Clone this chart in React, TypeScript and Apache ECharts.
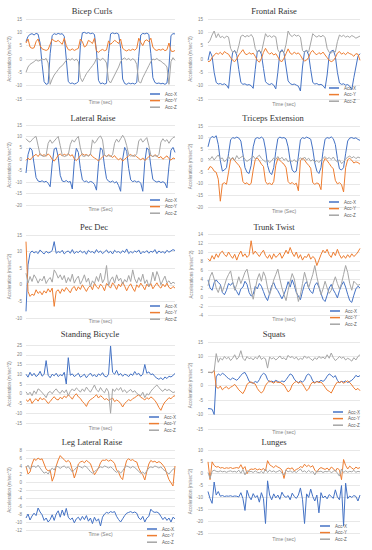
import React, { useEffect, useRef } from "react";
import * as echarts from "echarts";

const categories = Array.from({ length: 75 }, (_, i) => String(i));
const seriesNames = ["Acc-X", "Acc-Y", "Acc-Z"];
const colors = ["#4472C4", "#ED7D31", "#A5A5A5"];

const titles = ["Bicep Curls", "Frontal Raise", "Lateral Raise", "Triceps Extension", "Pec Dec", "Trunk Twist", "Standing Bicycle", "Squats", "Leg Lateral Raise", "Lunges"];
const yMin = [-15, -15, -20, -20, -10, -4, -15, -15, -12, -25];
const yMax = [15, 15, 15, 15, 15, 14, 25, 15, 8, 10];
const yStep = [5, 5, 5, 5, 5, 2, 5, 5, 2, 5];
const xNames = ["Time (sec)", "Time (sec)", "Time (Sec)", "Time (Sec)", "Time (sec)", "Time (sec)", "Time (sec)", "Time (sec)", "Time (Sec)", "Time (sec)"];
const yNames = ["Acceleration (m/sec^2)", "Acceleration (m/sec^2)", "Acceleration (m/sec^2)", "Acceleration (m/sec^2)", "Acceleration (m/sec^2)", "Accelerations (m/sec^2)", "Acceleration (m/sec^2)", "Acceleration (m/sec^2)", "Acceleration (m/sec^2)", "Acceleration (m/sec^2)"];

// Bicep Curls
const bicepX = [6.5,8.5,9.2,9.5,9.0,9.6,9.3,6,-2,-8.5, -9.5,-9.2,2,8.8,9.5,9.2,9.6,9.3,9.5,8.5, 0,-8.5,-9.2,-9.0,-9.4,-9.1,-8.5,5,9.8,10, 9.6,9.9,9.5,9.7,9.2,3,-8,-9.3,-9.0,-9.4, -9.1,2,9.4,9.8,9.5,9.7,9.3,4,-7.5,-9.2, -9.5,-9.0,-9.3,-9.1,-9.4,-8.8,1,9.0,9.6,9.4, 9.7,9.2,2,-7,-8.8,-9.2,-9.0,-9.3,-9.1,-9.5, -9.0,-3,8.8,9.5,9.4];
const bicepY = [6,7.5,4.5,4,4.2,6.5,7.5,5,3.8,3.5, 3.2,3.6,5.5,7.5,6.8,6.5,7,6.2,5.5,7.8, 5,3.5,3.3,3.8,3.2,3.6,4,7.5,6.5,4.5, 5,7,6.5,5.8,7.8,3,2.5,3.2,3.6,3.1, 3.4,6.8,5.5,6.2,7,6.5,5.8,7.5,4,3.4, 3.0,3.5,3.2,3.7,3.3,4,7.8,6.2,5,6.8, 7.2,6.5,7.8,4.5,3.5,3.2,3.6,3.3,3.8,3.1, 3.5,6,3.0,2.8,3.2];
const bicepZ = [-5,-3,-2,-1.5,-1,-0.3,-0.8,-0.5,0,-0.3, 0.2,-1.5,-9.5,-7.5,-6,-5,-4,-3,-2.5,-1.5, -0.5,0,-0.4,0.2,-0.6,0,-1,-7,-8.5,-7, -5.5,-4.5,-3.5,-2.5,-1.5,0.2,0,-0.5,0.3,-0.3, -1.5,-8,-9,-7.5,-6,-4.5,-3,-1,0,0.4, -0.3,0.2,-0.5,0.1,-0.4,-2,-8.5,-9,-7,-5.5, -4,-2.5,-1,0,-0.3,0.2,-0.5,-0.8,-1.5,-2, -3,-9.5,-1,0.5,-0.5];

// Frontal Raise
const frontalX = [-0.5,2.8,1,-5,-8.8,-9.4,-9.2,-9.6,-9.3,-9.8, -11,-3,2.5,3.2,1.5,-4,-8.8,-9.5,-9.3,-9.8, -9.6,-10,-11,-4,2.8,3.3,1.8,-3.5,-8.5,-9.3, -9.6,-9.2,-9.8,-11.2,-5,2.5,3.5,2.2,-3,-8.2, -9.2,-9.6,-9.4,-9.8,-10.2,-12,-3,2.8,3.2,1.5, -4,-8.8,-9.4,-9.2,-9.7,-9.5,-10,-11,-6,1.5, 3,3.3,1,-5,-9,-9.5,-9.3,-9.8,-9.6,-10.2, -11.5,-7,-3,1,2];
const frontalY = [-1,-0.8,0.5,1.5,2.2,1.8,2.5,1.6,2.8,2.2, 1.8,0.5,-0.5,-1,0,1.5,2.5,3.5,2,1.6, 2.4,1.8,2.2,1,-0.5,-1.2,0.2,2.5,4,2.6, 1.8,2.4,1.5,2,0.8,-0.6,-1,0.3,2,3.8, 2.2,1.7,2.6,1.9,2.3,1.4,0,-0.8,-0.4,0.6, 2.5,3.2,2.1,1.6,2.4,1.8,2.6,1.5,0.5,-0.5, -1,-0.6,0.5,2.2,2.8,1.8,2.3,1.6,2.5,2, 1.7,1,2,1.8,-0.5];
const frontalZ = [6,7,9,10.5,8,9.5,8,8.5,7.8,8.6, 8.2,4,2.5,3,2.2,5,8.5,9,8.2,8.8, 8.4,9.2,8,4,2.5,3.2,2.4,6,9.5,8.3, 8.8,8.1,8.7,8.3,3.5,2.2,3,2.5,5.5,10.5, 9,8.4,9.2,8.6,8.9,8.2,3.2,2.4,3.3,2.6, 6,9.5,8.7,8.2,8.8,8.3,8.9,8,4,2.5, 2.2,3,2.6,6.5,9,8.4,8.9,8.2,8.6,8.1, 8.8,8.4,7.8,8.2,8.6];

// Lateral Raise
const lateralX = [-6,2,5,4,-2,-8,-9.5,-9.8,-9.4,-10, -9.6,-10.5,-12,-2,4.5,5,1,-7,-9.5,-9.8, -9.3,-10,-9.7,-13,-1,4.8,3,-4,-9,-9.8, -9.5,-10.2,-9.7,-10,-11,-13.5,-2,5,4,-3, -8.5,-9.6,-10,-9.5,-10.3,-9.8,-11.5,-14,0,5.2, 3.5,-4,-9,-9.8,-9.4,-10,-9.6,-10.5,-14,-1, 5,4,-3,-8.8,-9.5,-10,-9.6,-10.2,-9.8,-10.4, -12.5,-3,4,5.2,3];
const lateralY = [-0.5,0.5,-0.3,0.8,1.5,2.2,1.2,2.5,1.6,2, 1.3,2.4,1.5,0,-0.8,0.3,1.8,2.3,1.5,2.2, 1.7,2.6,1.4,2,0.2,-0.6,0.4,1.6,2.4,1.8, 2.1,1.5,2.3,1.2,0.6,0,-0.7,0.2,1,1.8, 1.2,2,1.5,0.8,1.6,0.4,-0.2,0.5,-0.8,0, 0.8,1.5,2.2,1.3,1.9,1.1,0.4,-0.3,0.6,-0.5, 0.2,1.2,1.8,1.1,2,1.4,0.6,1.2,0,0.8, 1.5,0.3,-0.4,0.6,0.2];
const lateralZ = [9,8,7.5,8.5,9.5,10,6,2,1.5,1.2, 1.8,7,8.5,7,8,9,10,6,1.8,1.2, 1.5,2,6.5,8.5,7.5,9,10,5,1.5,1.2, 1.8,1.4,2,8.5,7,8,9.5,10.2,8.5,2, 1.3,1.6,1.2,2,7,8.8,7.5,9,10.5,9, 6,2,1.4,1.7,1.2,2.5,8,9,7.5,8.5, 9.5,6,1.8,1.2,1.6,1.3,2,7.5,9,7.8, 8.6,7,8.5,9.5,9.8];

// Triceps Extension
const tricepsX = [6,9.5,10.5,10,10.8,7,0,-4.5,-4,-3, 3,9,10,9.7,10.2,9.8,8.5,3,-3,-5, -5.5,-2,6,9.5,10,9.6,10.2,9.5,5,-2, -5,-6,-3,4,9.5,10.2,9.8,10,9.4,6, 0,-4,-5,-4.5,2,9,10,9.6,10.2,9.8, 9.3,5,-1,-4.5,-5.5,-3,4,9.3,10,9.7, 10.3,9.5,7,1,-3.5,-4,-3,3,8.5,9.8, 10,9.6,9.9,9.2,8.8];
const tricepsY = [-4,-2.5,-3,-4.5,-5,-8,-17.5,-10,-9.5,-10.2, -5,0.5,1,0,-1,-2,-3.5,-9,-10,-9.5, -10.5,-9.8,-4,0.5,1.2,0,-1.5,-2.5,-9,-10.2, -9.6,-10.5,-9,-2,1,0.2,-0.8,-1.5,-3,-9, -10,-9.4,-10.3,-9.7,-13,0,1.2,0.3,-1,-2, -3.2,-9.5,-10.2,-9.6,-10,-12.5,-1,1,0,-1.2, -2.5,-3.5,-8.5,-10,-9.5,-10.3,-13.5,-3,0.5,1, 0.2,-1,-0.5,-0.8,-1.5];
const tricepsZ = [1,0.5,1.8,0.3,1.5,2.5,0.8,1.2,-0.5,0.5, 1.8,0.4,1.5,0.2,2.2,0.8,1.5,2,0.5,-0.3, 0.4,1,2,0.8,1.6,2.4,1,0.2,-0.5,0.3, -0.8,0,1.2,0.5,1.8,0.6,1.5,0.2,1,-0.5, 0.2,-0.4,0.5,-0.6,0.4,1.2,0.5,1.6,0.3,1.1, -0.2,0.5,-0.6,0.1,-0.8,0.3,1,1.8,0.8,1.4, 0.5,1.6,0.2,-0.5,0.3,-1.2,-0.5,0.8,1.5,2, 1.2,1.8,0.9,1.6,1.2];

// Pec Dec
const pecX = [-8,6,9.5,10.2,9.6,10,9.4,10.5,9.8,9.3, 10.1,9.6,9.8,10.3,13,9.5,10,9.7,10.4,9.3, 9.9,10.2,9.5,10.6,9.4,10,9.7,10.3,9.6,10.1, 9.2,10.4,9.8,10,9.5,10.6,9.7,10.2,9.4,9.9, 10.5,9.6,10.1,9.3,10.4,9.8,10,9.5,10.3,9.7, 10.8,9.4,10,9.6,10.2,9.8,10.5,9.3,10,9.7, 10.3,9.5,10.1,9.8,10.6,9.4,10.2,9.7,10,9.5, 10.4,9.8,10.2,10.6,10.3];
const pecY = [13,-2,-3.5,-2.8,-3.2,-1.5,-2.6,-2,-3,-1.8, -2.5,-1.2,-2.2,-1,-6.5,-2,-1.5,-2.6,-1.2,-2, -0.8,-1.6,-2.4,-1,-0.5,-1.8,-0.6,-1.4,0,-1, -2,-0.8,-0.2,-1.5,0.5,-0.6,-1.2,0.2,-0.5,-1.8, 0.4,-0.3,-1,0.6,-0.2,-1.4,0.2,-0.6,0.8,-0.4, -1.8,-0.5,0.3,-1,-2,0,-0.8,0.5,-0.4,-1.5, 0.2,-0.6,0.4,-1.2,-0.3,0.6,-0.5,-1,0.2,-0.6, 0.5,-0.8,-1.2,-0.5,-1];
const pecZ = [3.5,0.5,2.5,1,3,2,0.5,1.8,1.2,2.6, 0.4,1.5,2.2,0.8,4.5,3.5,2,3,1.5,2.8, 0.6,2.2,1,3.2,0.5,1.8,2.6,0.2,1.4,3, 0.8,2,-0.5,1.2,0.4,2.5,1,3.5,0.6,1.8, 5.8,-0.3,1.5,2.4,0.5,3,1.2,2,0.2,1.6, 0.8,2.8,1,4.5,1.8,0.5,2.2,1,3.2,0.4, 1.5,-0.5,0.8,3.8,1.2,4,2.4,0,1.4,2.6, 0.6,1.2,0.2,0.8,0.4];

// Trunk Twist
const trunkX = [3.8,2,1.5,3.2,3.8,3.2,2.8,1,0.5,1.5, 3,2.6,3.2,2,1.2,0.4,1.8,2.2,3.5,2.8, 1,0.2,0.6,2.4,1.8,3,2.4,1.2,0,-0.8, 0.8,2.5,3.2,2,1.4,0.5,-0.4,0.6,1.8,3.4, 2.2,3.8,2.6,1,0.2,-0.6,1.2,2.8,3.4,2, 1.2,0.8,2.6,3.2,2.2,0.8,-0.5,-1,0.4,2, 2.8,1.6,0.8,-0.2,1.4,2.6,3.4,2.2,0.6,-0.8, -1.2,0.4,1.8,2.4,2];
const trunkY = [8.5,8,9.2,8.4,9.6,8.8,9.8,10.2,9.4,9, 10,9.2,8.6,9.5,8.2,9.4,10.2,9,9.6,8.8, 9.3,12.5,9.5,10.2,9.6,9,9.8,10.4,9.2,8.6, 9.4,8.4,9.6,8.8,9.2,9.8,8.6,9.4,10.4,9.6, 11,9.8,9,10,8.6,9.4,8.2,9,8.8,9.6, 8.4,9,8.6,7,8.2,9.4,10.4,9.8,10.6,9.4, 8.8,10,9.2,10.6,9.4,8.6,9.2,8.6,9.4,8.8, 9.6,9,9.4,10,10.8];
const trunkZ = [2.5,4.5,5.5,4,2,1,2.5,1.2,2.5,4, 5,5.8,3.5,1.5,2.8,4.5,3,4.2,5.5,6.2, 4,1.5,-0.5,1.8,4,5.2,3.5,5.6,4.5,2, 0.5,2,3.8,5,6.2,4,2,0.5,-0.8,1.5, 3.5,5.2,4,1.5,-1,0.5,3,5.5,3.8,2, 3.5,5,7,4.5,2.5,0.5,1.8,3.5,2,0.8, 1.5,3.2,4.5,3,1.8,3,5,7,5.5,3, 1.5,3.5,3,2.6,2.8];

// Standing Bicycle
const bicycleX = [10,8.5,11,9.2,10.5,8.8,9.6,11.5,9,10, 17,9.5,8.2,10,9.2,10.5,8.8,9.8,9.2,11, 5,18.5,9.5,10.2,8.8,9.6,10.5,8.5,9.2,10, 8.2,9.5,10.6,9,9.8,8.6,10.2,9.4,10.8,9, 8.6,10,24.5,11,10,12,9.5,10.4,9,10, 9.6,8.8,10.2,9.4,11.4,9.8,10.5,9,10,15, 10.5,11.2,9.8,10.2,8.8,8,7.4,8.2,7.2,8.6, 7.8,9,8.6,9.4,10.4];
const bicycleY = [-3,-4,-2.5,-5,-3.5,-2.5,-3.8,-2,-3,-2.4, -3.6,-5,-4,-2.6,-1.5,-2.8,-3.2,-1.8,-2.6,-1.2, -2,-0.5,-1.5,-2.8,-1,0,-1.6,-2.4,-4,-5, -6.5,-4.2,-3,-2.4,-1.5,-0.5,-2.2,-1,-1.8,-3, -2.5,-3.4,-2.8,-2.2,-4,-3.2,-3.8,-5,-6.8,-5, -4,-3,-3.6,-2.5,-2,-1.2,-0.5,-1.8,-2.4,-3.2, -2,-2.8,-1.6,-2.4,-3.4,-5,-7,-8.5,-6,-4.2, -3.2,-2,-2.6,-1.4,-1];
const bicycleZ = [1,-0.5,0.8,-1,1.5,0,2.5,1.8,0.5,-0.5, -2,0.5,1.2,0,1.5,2.5,1,0.2,1.8,0.5, 2,-1,1.2,2.5,1.4,3,2,0.8,2.5,1.2, 3.4,2,0.8,2.6,4.5,2,1,3.2,1.5,0.5, 2.8,1,-10,2.5,1.2,2.8,1.8,3.2,1,2, 0.5,1.4,2.2,0.8,1.6,0.2,-0.5,-1,0.8,-2, 0,-0.6,1.2,2.5,3.5,4.5,3.2,2,1.2,2.5, 1.6,2.2,1.4,0.6,1];

// Squats
const squatX = [-8,-8,-8.2,-10,3,4,3.5,4.2,3.8,3, 2.4,2,2.6,2.2,1.8,2.5,3.5,4.2,4.5,3.2, 1.5,1,0.8,1.4,1,2,3.5,4.2,3.8,2, 1.2,1.5,1.2,1.8,1.4,1,1.6,1.2,2,3, 4,3.6,2.2,1.4,1,1.6,1.2,1.8,3.5,4, 3.2,1.6,1,1.4,1.2,1.8,1.4,2,3.2,4, 3.5,2.8,3.4,1.8,1,1.4,1.2,1.6,1,1.4, 1.8,2.5,3.5,3,3.4];
const squatY = [4.5,4.5,4.4,5.2,-0.5,-1,-0.2,-1.5,-0.8,-0.4, -1.2,-0.6,-0.2,0.4,-0.5,-1.5,-2.2,-2.8,-1.5,0.4, 1,1.2,0.8,0.5,-1,-2,-2.6,-1.8,0,1, 1.6,1.2,0.8,1.4,1,1.2,0.6,0.2,-1,-2.2, -1.6,0.2,1,1.4,0.8,1.2,0.6,-0.6,-1.8,-1.2, 0.4,1.2,0.8,1.4,1,1.2,0.4,-0.6,-1.6,-2, -2.6,-1.2,0.2,1.2,1,1.4,0.8,1.2,1.6,1, 0.2,-0.8,-1.5,-1,-1.8];
const squatZ = [4.5,4.5,4.4,5,11,8,9.5,8.8,10,9.2, 9.8,8.6,9.4,10.6,9,9.8,12,9.4,8.6,10, 9.2,9.6,8.8,9.8,9.2,10.4,9,9.6,9.2,6, 9.8,9.2,9.6,8.8,9.4,10.2,9.2,9.6,8.8,10.4, 9.6,10,9.2,9.8,8.8,9.4,9,10.2,9.4,9.8, 9.2,8.6,9.6,9,10,9.4,9.8,9.2,10.6,9.4, 11.2,9.6,8.6,9.2,10,9.4,9.8,8.8,9.4,9, 8.4,9.6,8.8,10,10.6];

// Leg Lateral Raise
const legX = [-9,-8,-9.5,-8.5,-7.8,-8.4,-6.5,-7.5,-8.2,-9.6, -9,-10,-9.4,-8.2,-9.6,-8,-7.2,-8.8,-7,-8.4, -6.6,-8.8,-9.4,-9,-10.2,-9.2,-8.8,-9.6,-8.6,-9.4, -8.4,-9.8,-9,-10.4,-8.8,-9.8,-9.2,-11,-8.8,-8, -7.6,-7.8,-7.4,-7.6,-7.4,-8.6,-9.4,-10,-9.2,-8.4, -7.8,-7.6,-7.4,-7.7,-7.5,-7.8,-9,-9.4,-8.6,-10, -9,-8.6,-6.8,-7.4,-7.6,-7.5,-7.8,-8.6,-9.4,-8.8, -9.6,-9,-10,-8.8,-9.2];
const legY = [4,2,2.5,4.5,5.8,5.4,6,5.6,5.8,4.5, 3.2,2.8,3,0.2,1.5,4,5.5,6.6,6,5.6, 5,5.4,4.8,3,1,2.5,4.5,5,5.2,4.8, 5.4,5,4.6,3.2,1.8,2.6,3.5,4.8,5.5,5.4, 5.6,5.2,5.5,5.2,4.6,3,2.4,1.2,0.6,3.5, 5.4,5.8,5.4,5.6,5.2,5,3.5,2.5,1.8,0.5, 2.6,4.5,5.4,5,5.2,4.8,5.1,4.8,4.2,3.5, 2,0.6,-0.2,-1,4];
const legZ = [3.5,4.2,3.2,3.8,4,3.6,4.2,3.5,2.8,2.2, 2.5,2,2.8,3.5,3,4,3.8,3.4,3.8,4, 3.5,3.8,3.2,2.5,3,3.6,4,3.8,3.5,4, 3.8,3.2,2.6,2.2,2.6,3,3.5,3.8,3.6,4, 3.8,3.5,3.8,3.4,2.8,2.4,2.8,2.2,2.8,3.6, 4,3.8,3.5,3.9,3.6,3.2,2.6,2.2,2.5,2, 2.8,3.5,3.8,3.6,4,3.8,3.5,3.8,3.2,2.8, 2.4,2,2.6,3.2,3.4];

// Lunges
const lungeX = [-7.5,-10.5,-12.5,-3.5,-9,-7.5,-9.5,-9.2,-9.6,-9.4, -9.5,-9.3,-9.6,-9.4,-9.5,-9.8,-8,-10.5,-15.5,-7, -9.6,-11,-8.4,-10,-9.2,-12,-8,-10.5,-21,-3, -9,-11,-8.5,-10.2,-9,-10.8,-7.8,-9.4,-10,-9.2, -11,-8.2,-9.6,-10.4,-9,-6,-10.8,-21,-8.5,-10, -6.5,-9.6,-11.5,-9,-16.5,-8,-10.2,-9.4,-10.6,-8.8, -9.6,-10.4,-6.8,-9.8,-11,-5,-22,-4,-10.5,-9.4, -10,-9.2,-9.6,-11.5,-9];
const lungeY = [5,-2.5,5,3.5,2.8,3,2.4,2.6,2.2,2.5, 2.3,2.6,2.2,2.4,2.6,2.3,3.8,2,3,0, 1.5,2,1.8,2.2,1.6,2,1.6,2.2,1.2,5.5, 3.8,3.2,2.6,3.4,2.8,2.4,1.5,-2,1.8,2.4, 2,2.5,1.2,1.8,2.2,3,2.6,4,3,3.6, 2.8,3.4,1.5,0.6,2,2.6,2.2,1.8,2.4,1.5, 2.8,2.2,1,2.4,1.5,-2.5,6,3.5,2,3.2, 2.4,1.8,2.8,2.2,2.6];
const lungeZ = [0.5,-2,1,1.5,1,0.8,1.2,0.8,1,0.6, 1,1.2,0.8,1,0.6,1.5,0.2,1.8,-0.5,1.2, 0.8,1,0.5,1.2,0.6,0.4,1,0.2,2,0.5, 1.5,0.8,1.2,0.6,1,1.4,0.2,-0.5,1.5,0.8, 1.2,0.6,1,0.5,1.3,2,0.8,1.2,0.5,1.4, 0.6,1,-0.5,1.2,0.8,1.1,0.5,1,0.8,1.3, 0.4,1,1.5,0.2,-1,2,0.5,1.2,0.6,1, 0.8,1.4,0.6,1,0.8];

const panelData = [
  [bicepX, bicepY, bicepZ],
  [frontalX, frontalY, frontalZ],
  [lateralX, lateralY, lateralZ],
  [tricepsX, tricepsY, tricepsZ],
  [pecX, pecY, pecZ],
  [trunkX, trunkY, trunkZ],
  [bicycleX, bicycleY, bicycleZ],
  [squatX, squatY, squatZ],
  [legX, legY, legZ],
  [lungeX, lungeY, lungeZ],
];

// layout (pixels)
const layout = [
  { left: 26, top: 19, w: 149, h: 80, tx: 92, ty: 11, lx: 150, ly: 91.5, xGap: 0.5 },
  { left: 208, top: 19, w: 152, h: 80, tx: 274, ty: 11, lx: 329, ly: 85.5, xGap: 2.5 },
  { left: 26, top: 125, w: 149, h: 80, tx: 93, ty: 118, lx: 150, ly: 197.5, xGap: 1.5 },
  { left: 208, top: 126, w: 152, h: 81, tx: 273, ty: 118, lx: 329, ly: 199.5, xGap: 1.5 },
  { left: 26, top: 235, w: 149, h: 83, tx: 94, ty: 227, lx: 150, ly: 303.5, xGap: 0.5 },
  { left: 208, top: 234, w: 152, h: 81, tx: 274, ty: 227, lx: 330, ly: 308.5, xGap: 1.5 },
  { left: 26, top: 345, w: 149, h: 78, tx: 90, ty: 334, lx: 149, ly: 414.5, xGap: 2.5 },
  { left: 208, top: 342, w: 152, h: 87, tx: 274, ty: 334, lx: 333, ly: 409.5, xGap: 0 },
  { left: 26, top: 450, w: 149, h: 80, tx: 92, ty: 442, lx: 147, ly: 526.5, xGap: 1.5 },
  { left: 208, top: 450, w: 152, h: 83, tx: 274, ty: 442, lx: 320, ly: 523.5, xGap: 3.5 },
];

const SANS = "Liberation Sans";
const SERIF = "Liberation Serif";

export default function App() {
  const ref = useRef<HTMLDivElement>(null);
  useEffect(() => {
    const chart = echarts.init(ref.current!, null, { renderer: "svg" });
    const grid: any[] = [];
    const xAxis: any[] = [];
    const yAxis: any[] = [];
    const series: any[] = [];
    const legend: any[] = [];
    const graphic: any[] = [];
    panelData.forEach((sets, k) => {
      const L = layout[k];
      const right = L.left > 100;
      grid.push({ left: L.left, top: L.top, width: L.w, height: L.h, containLabel: false });
      xAxis.push({
        type: "category",
        gridIndex: k,
        data: categories,
        boundaryGap: false,
        axisLine: { show: false },
        axisTick: { show: false },
        axisLabel: { show: false },
        splitLine: { show: false },
        name: xNames[k],
        nameLocation: "middle",
        nameGap: L.xGap,
        nameTextStyle: { fontSize: 5, color: "#7f7f7f", fontFamily: SANS, verticalAlign: "top" },
      });
      yAxis.push({
        type: "value",
        gridIndex: k,
        min: yMin[k],
        max: yMax[k],
        interval: yStep[k],
        axisLine: { show: false },
        axisTick: { show: false },
        axisLabel: { fontSize: 4.5, color: "#7f7f7f", margin: right ? 5 : 4, fontFamily: SANS },
        splitLine: { lineStyle: { color: "#d9d9d9", width: 0.6 } },
        name: yNames[k],
        nameLocation: "middle",
        nameGap: right ? 14.5 : 12.5,
        nameTextStyle: { fontSize: 4.5, color: "#7f7f7f", fontFamily: SANS },
      });
      sets.forEach((d, j) => {
        series.push({
          type: "line",
          name: seriesNames[j],
          xAxisIndex: k,
          yAxisIndex: k,
          data: d,
          showSymbol: false,
          symbol: "none",
          lineStyle: { width: 1, color: colors[j] },
          itemStyle: { color: colors[j] },
          z: 2 + j,
        });
      });
      legend.push({
        orient: "vertical",
        left: L.lx,
        top: L.ly,
        itemWidth: 10,
        itemHeight: 1.5,
        itemGap: 1.6,
        icon: "rect",
        padding: 0,
        selectedMode: false,
        data: seriesNames,
        textStyle: { fontSize: 4.5, color: "#595959", fontFamily: SANS },
      });
      graphic.push({
        type: "text",
        x: L.tx,
        y: L.ty,
        style: {
          text: titles[k],
          fontSize: 8.5,
          fontFamily: SERIF,
          fill: "#333333",
          align: "center",
          verticalAlign: "middle",
        },
      });
    });
    chart.setOption({
      animation: false,
      backgroundColor: "#ffffff",
      grid,
      xAxis,
      yAxis,
      series,
      legend,
      graphic,
    });
    return () => chart.dispose();
  }, []);
  return (
    <div
      ref={ref}
      style={{ position: "fixed", left: 0, top: 0, width: 372, height: 550, background: "#fff" }}
    />
  );
}
